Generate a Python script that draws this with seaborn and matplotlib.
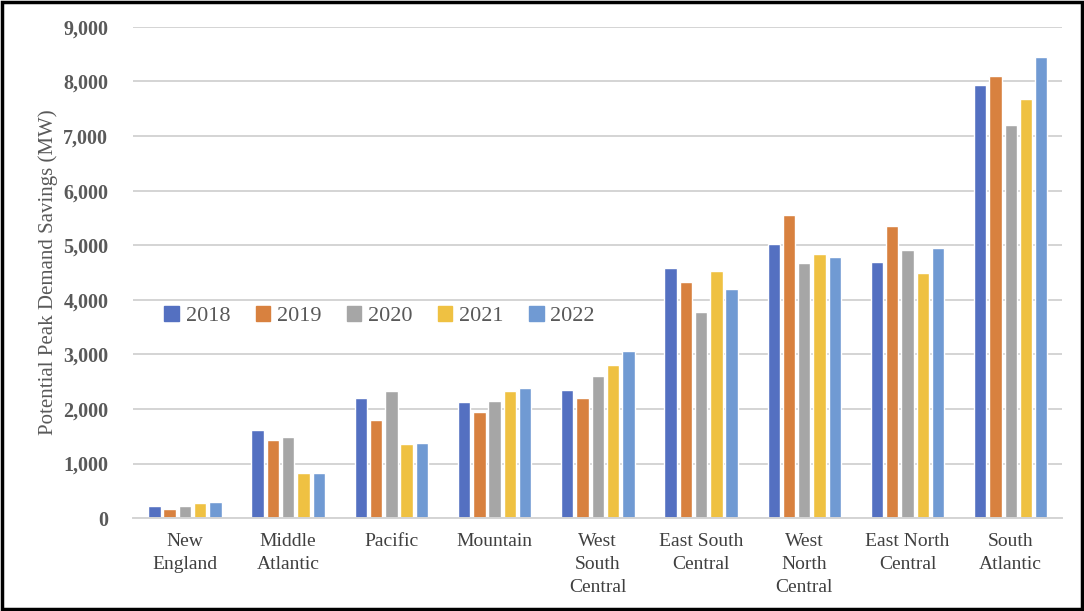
import matplotlib
matplotlib.use("Agg")
import matplotlib.pyplot as plt
import matplotlib.patches as mpatches
import seaborn as sns
import pandas as pd

# regions and yearly values (MW)
regions = ["New\nEngland", "Middle\nAtlantic", "Pacific", "Mountain",
           "West\nSouth\nCentral", "East South\nCentral", "West\nNorth\nCentral",
           "East North\nCentral", "South\nAtlantic"]
years = ["2018", "2019", "2020", "2021", "2022"]
v2018 = [225, 1610, 2200, 2120, 2345, 4590, 5020, 4700, 7940]
v2019 = [160, 1440, 1790, 1950, 2210, 4330, 5550, 5360, 8095]
v2020 = [225, 1495, 2330, 2140, 2610, 3775, 4670, 4910, 7200]
v2021 = [280, 820, 1355, 2330, 2800, 4520, 4830, 4490, 7680]
v2022 = [300, 820, 1375, 2375, 3060, 4200, 4775, 4955, 8445]
colors = ["#5470c1", "#d8813f", "#a6a6a6", "#efc142", "#709ad3"]

rows = []
for yr, vals in zip(years, [v2018, v2019, v2020, v2021, v2022]):
    for reg, v in zip(regions, vals):
        rows.append({"region": reg, "year": yr, "mw": v})
df = pd.DataFrame(rows)

sns.set_theme(style="white")
plt.rcParams["font.family"] = ["Liberation Serif", "DejaVu Serif"]

fig = plt.figure(figsize=(10.84, 6.11), dpi=100)
ax = fig.add_axes([0.123, 0.152, 0.857, 0.804])

sns.barplot(data=df, x="region", y="mw", hue="year", palette=colors,
            width=0.74, gap=0.19, saturation=1, ax=ax, legend=False)

ax.set_ylim(0, 9000)
ax.set_yticks(range(0, 9001, 1000))
ax.set_yticklabels([f"{t:,}" for t in range(0, 9001, 1000)],
                   fontsize=14.5, fontweight="bold", color="#595959")
ax.yaxis.grid(True, color="#d4d4d4", linewidth=1.4)
ax.set_axisbelow(True)
for s in ["top", "right", "left"]:
    ax.spines[s].set_visible(False)
ax.spines["bottom"].set_color("#d4d4d4")
ax.spines["bottom"].set_linewidth(1.4)
ax.tick_params(axis="both", length=0)
ax.tick_params(axis="y", pad=18)
ax.tick_params(axis="x", pad=11)
for lbl in ax.get_xticklabels():
    lbl.set_fontsize(14)
    lbl.set_color("#404040")
    lbl.set_linespacing(1.45)
    lbl.set_verticalalignment("top")
ax.set_xlabel("")
ax.set_ylabel("Potential Peak Demand Savings (MW)", fontsize=15,
              color="#595959", labelpad=4)

handles = [mpatches.Patch(color=c, label=y) for c, y in zip(colors, years)]
leg = ax.legend(handles=handles, loc="center left", bbox_to_anchor=(0.012, 0.411),
                ncol=5, frameon=False, fontsize=16, handlelength=0.65,
                handleheight=0.65, handletextpad=0.3, columnspacing=1.15)
for t in leg.get_texts():
    t.set_color("#595959")

fig.patches.append(mpatches.Rectangle((0.002, 0.003), 0.996, 0.994,
                                      transform=fig.transFigure, fill=False,
                                      edgecolor="black", linewidth=2.5))

fig.savefig("out.png", dpi=100)
